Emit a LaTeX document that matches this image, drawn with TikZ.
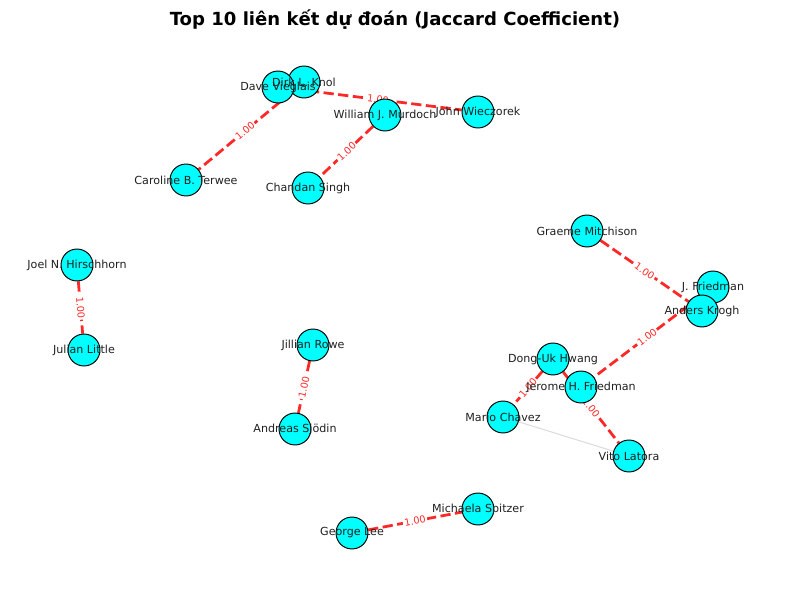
\documentclass[tikz,border=0pt]{standalone}
\usepackage{fontspec}
\setmainfont{DejaVu Sans}
\usetikzlibrary{positioning}
\definecolor{linkred}{RGB}{255,40,40}
\definecolor{oldgray}{RGB}{218,218,218}
\definecolor{nodecyan}{RGB}{0,255,255}
\tikzstyle{person} = [circle, draw=black, fill=nodecyan, minimum size=23pt, inner sep=0pt, line width=0.7pt]
\tikzstyle{nametag} = [font=\fontsize{8}{9}\selectfont, text=black!88, inner sep=0pt]
\tikzstyle{link} = [draw=linkred, line width=2pt, dash pattern=on 7.4pt off 3.2pt]
\tikzstyle{score} = [sloped, midway, fill=white, inner sep=1pt, text=linkred, font=\fontsize{7}{8}\selectfont]
\tikzstyle{known} = [draw=oldgray, line width=0.7pt]
\pgfdeclarelayer{background}
\pgfsetlayers{background,main}

\begin{document}
\begin{tikzpicture}[x=0.72pt, y=-0.72pt]
\useasboundingbox (0,0) rectangle (790,590);
\node[font=\bfseries\fontsize{13}{15}\selectfont] (title) at (395,20) {Top 10 liên kết dự đoán (Jaccard Coefficient)};

% authors
\node[person] (dirk) at (304,82) {};
\node[person] (dave) at (278,87) {};
\node[person] (murdoch) at (385,115) {};
\node[person] (john) at (478,112) {};
\node[person] (caroline) at (186,180) {};
\node[person] (chandan) at (308,188) {};
\node[person] (graeme) at (587,231) {};
\node[person] (jfried) at (713,287) {};
\node[person] (anders) at (702,311) {};
\node[person] (joel) at (77,265) {};
\node[person] (julian) at (84,350) {};
\node[person] (jillian) at (313,345) {};
\node[person] (dong) at (553,359) {};
\node[person] (jerome) at (581,387) {};
\node[person] (mario) at (503,417) {};
\node[person] (andreas) at (295,429) {};
\node[person] (vito) at (629,456) {};
\node[person] (michaela) at (478,509) {};
\node[person] (george) at (352,533) {};

\node[nametag] at (dirk) {Dirk L. Knol};
\node[nametag] at (dave) {Dave Vieglais};
\node[nametag] at (murdoch) {William J. Murdoch};
\node[nametag] at (john) {John Wieczorek};
\node[nametag] at (caroline) {Caroline B. Terwee};
\node[nametag] at (chandan) {Chandan Singh};
\node[nametag] at (graeme) {Graeme Mitchison};
\node[nametag] at (jfried) {J. Friedman};
\node[nametag] at (anders) {Anders Krogh};
\node[nametag] at (joel) {Joel N. Hirschhorn};
\node[nametag] at (julian) {Julian Little};
\node[nametag] at (jillian) {Jillian Rowe};
\node[nametag] at (dong) {Dong-Uk Hwang};
\node[nametag] at (jerome) {Jerome H. Friedman};
\node[nametag] at (mario) {Mario Chavez};
\node[nametag] at (andreas) {Andreas Sjödin};
\node[nametag] at (vito) {Vito Latora};
\node[nametag] at (michaela) {Michaela Spitzer};
\node[nametag] at (george) {George Lee};

% links
\begin{pgfonlayer}{background}
\draw[known] (mario) -- (vito);
\draw[link] (dirk) -- node[score] {1.00} (caroline);
\draw[link] (dave) -- node[score] {1.00} (john);
\draw[link] (murdoch) -- node[score] {1.00} (chandan);
\draw[link] (graeme) -- node[score] {1.00} (anders);
\draw[link] (jfried) -- node[score] {1.00} (jerome);
\draw[link] (dong) -- node[score] {1.00} (mario);
\draw[link] (dong) -- node[score] {1.00} (vito);
\draw[link] (joel) -- node[score] {1.00} (julian);
\draw[link] (jillian) -- node[score] {1.00} (andreas);
\draw[link] (george) -- node[score] {1.00} (michaela);
\end{pgfonlayer}
\end{tikzpicture}
\end{document}
